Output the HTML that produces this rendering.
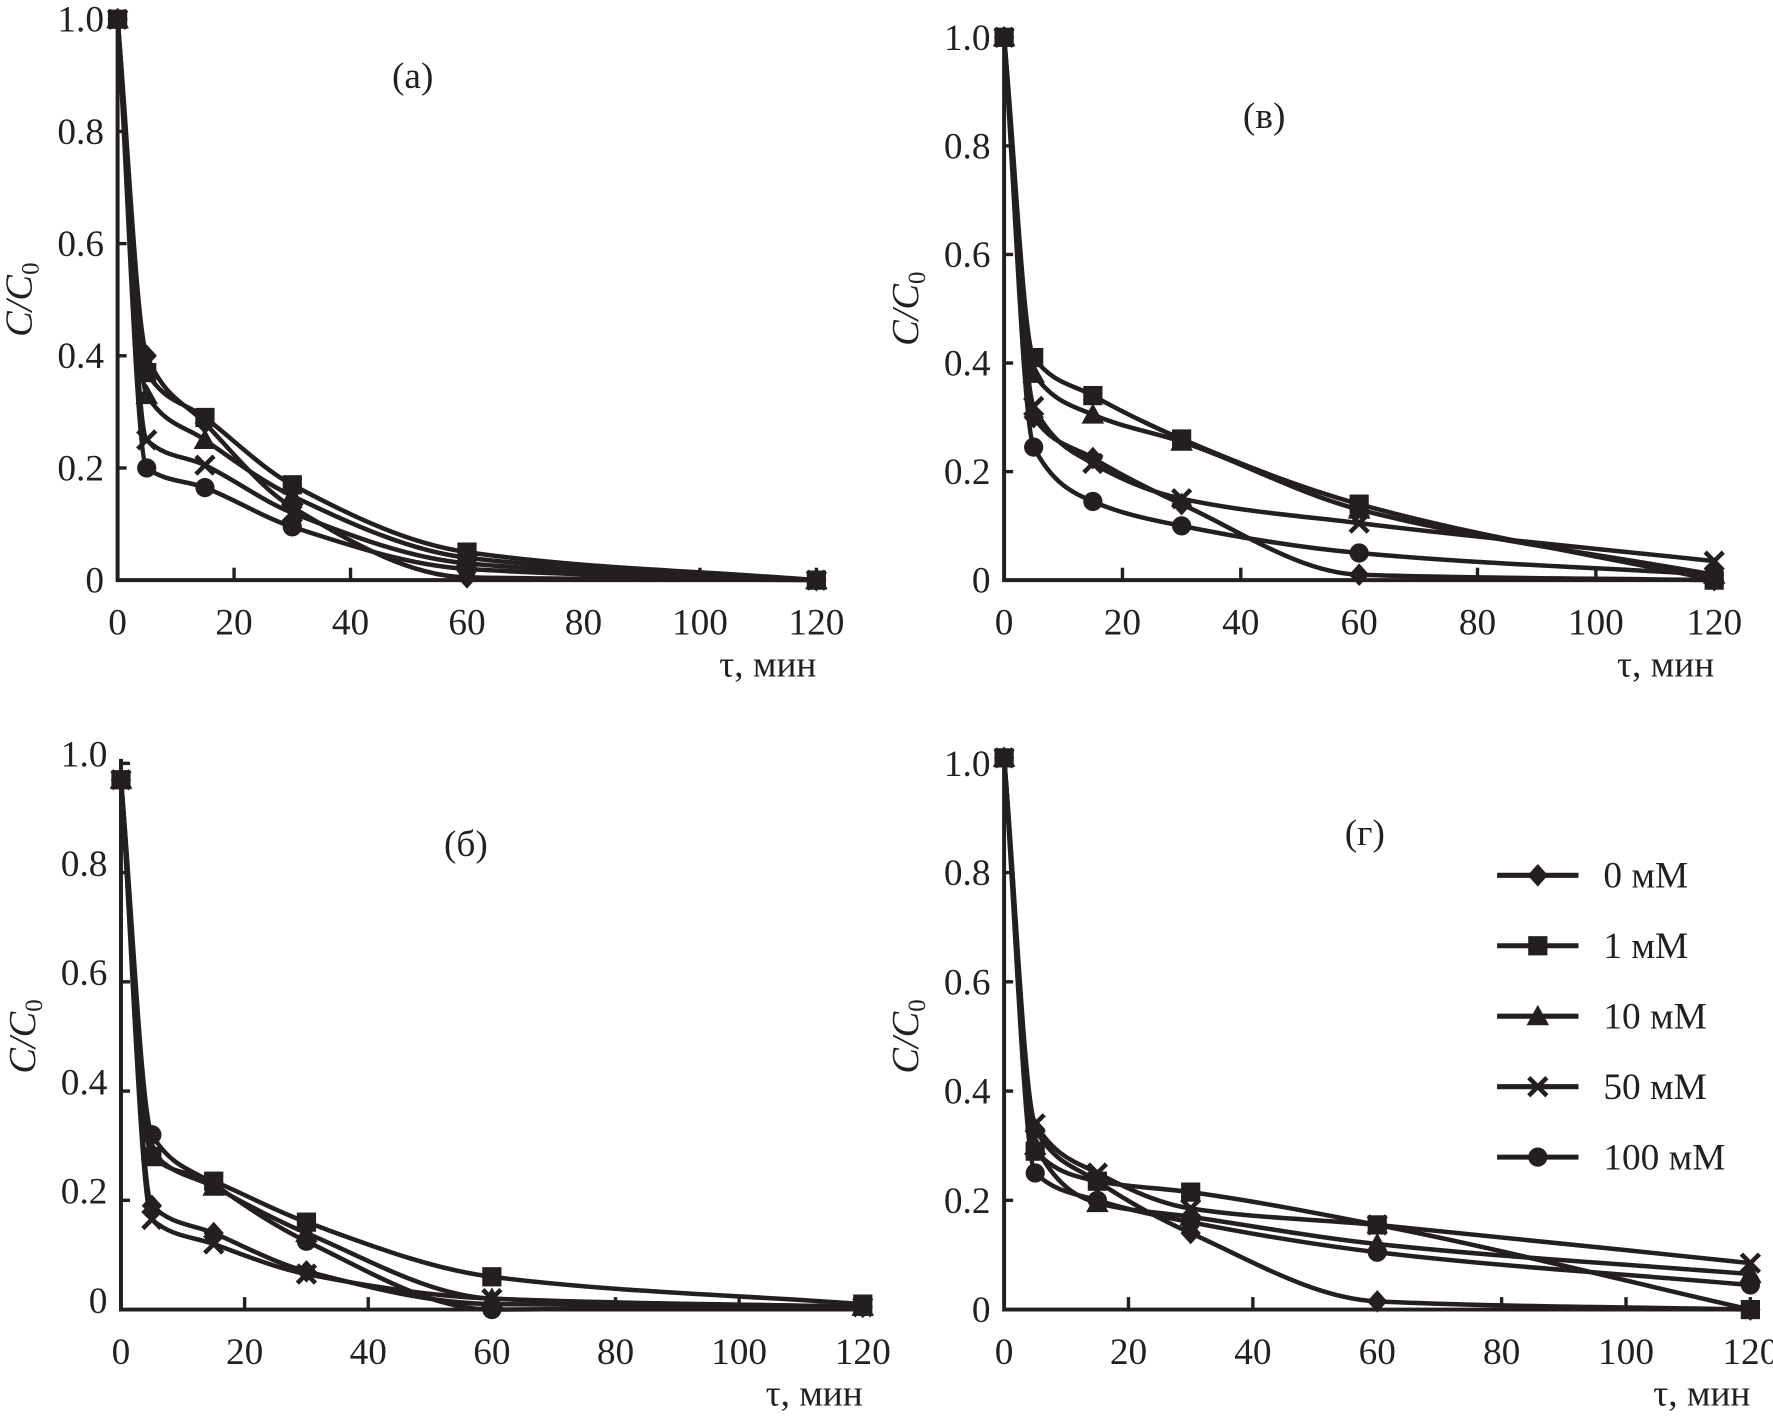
<!DOCTYPE html>
<html><head><meta charset="utf-8"><style>
html,body{margin:0;padding:0;background:#fff}
svg{display:block}
text{font-family:"Liberation Serif",serif;fill:#231f20}
</style></head><body>
<svg id="s" width="1773" height="1417" viewBox="0 0 1568 1253" preserveAspectRatio="none" xmlns="http://www.w3.org/2000/svg"></svg>
<script>
const S=document.getElementById('s');const C='#231f20';
let h='';
const T=[0,5,15,30,60,120];
const panels=[
 {x0:104,x1:722,y0:513,y1:17,lab:'(a)',lx:365,ly:78,tl:0,
  d:[[1,.40,.28,.13,.005,0],[1,.37,.29,.17,.05,0],[1,.33,.25,.15,.04,0],[1,.25,.205,.12,.03,0],[1,.20,.165,.095,.02,0]]},
 {x0:888,x1:1516,y0:513,y1:33,lab:'(в)',lx:1118,ly:113,tl:0,
  d:[[1,.30,.225,.14,.01,0],[1,.41,.34,.26,.14,0],[1,.38,.305,.255,.13,.01],[1,.32,.215,.15,.105,.035],[1,.245,.145,.10,.05,.01]]},
 {x0:107,x1:763,y0:1158,y1:675,lab:'(б)',lx:412,ly:757,tl:-8,
  d:[[.97,.19,.14,.07,.01,.005],[.97,.28,.235,.16,.06,.01],[.97,.29,.225,.14,.02,.005],[.97,.165,.12,.065,.02,.005],[.97,.32,.23,.125,0,.005]]},
 {x0:888,x1:1548,y0:1158,y1:675,lab:'(г)',lx:1207,ly:747,tl:0,
  d:[[1.01,.33,.235,.14,.015,0],[1.01,.29,.235,.215,.155,0],[1.01,.30,.195,.17,.12,.065],[1.01,.34,.25,.185,.155,.085],[1.01,.25,.20,.16,.105,.045]]}
];
function marker(k,x,y){
 if(k==0)return `<path d="M${x} ${y-10}L${x+9} ${y}L${x} ${y+10}L${x-9} ${y}Z" fill="${C}"/>`;
 if(k==1)return `<rect x="${x-8.5}" y="${y-8.5}" width="17" height="17" fill="${C}"/>`;
 if(k==2)return `<path d="M${x} ${y-10}L${x+10} ${y+8}L${x-10} ${y+8}Z" fill="${C}"/>`;
 if(k==3)return `<path d="M${x-8} ${y-8}L${x+8} ${y+8}M${x+8} ${y-8}L${x-8} ${y+8}" stroke="${C}" stroke-width="4"/>`;
 return `<circle cx="${x}" cy="${y}" r="8.5" fill="${C}"/>`;
}
function curve(p){
 const n=p.length,dx=[],sl=[],m=[];
 for(let i=0;i<n-1;i++){dx[i]=p[i+1][0]-p[i][0];sl[i]=(p[i+1][1]-p[i][1])/dx[i];}
 m[0]=sl[0];m[n-1]=sl[n-2];
 for(let i=1;i<n-1;i++){
  if(sl[i-1]*sl[i]<=0)m[i]=0;
  else{const w1=2*dx[i]+dx[i-1],w2=dx[i]+2*dx[i-1];m[i]=(w1+w2)/(w1/sl[i-1]+w2/sl[i]);}
 }
 let d=`M${p[0][0]} ${p[0][1]}`;
 for(let i=0;i<n-1;i++){
  const h3=dx[i]/3;
  d+=`C${p[i][0]+h3} ${p[i][1]+m[i]*h3} ${p[i+1][0]-h3} ${p[i+1][1]-m[i+1]*h3} ${p[i+1][0]} ${p[i+1][1]}`;
 }
 return d;
}
for(const P of panels){
 const sx=v=>P.x0+(P.x1-P.x0)*v/120, sy=v=>P.y0+(P.y1-P.y0)*v;
 h+=`<path d="M${P.x0} ${sy(1)-4}V${P.y0}H${P.x1+6}" fill="none" stroke="${C}" stroke-width="3.5"/>`;
 for(let i=1;i<=5;i++){const y=sy(i*.2);h+=`<line x1="${P.x0}" y1="${y}" x2="${P.x0+8}" y2="${y}" stroke="${C}" stroke-width="3"/>`;}
 for(let i=1;i<=6;i++){const x=sx(i*20);h+=`<line x1="${x}" y1="${P.y0}" x2="${x}" y2="${P.y0-11}" stroke="${C}" stroke-width="3"/>`;}
 const yl=['0','0.2','0.4','0.6','0.8','1.0'];
 for(let i=0;i<=5;i++)h+=`<text x="${P.x0-12}" y="${sy(i*.2)+11+P.tl}" font-size="33" text-anchor="end">${yl[i]}</text>`;
 for(let i=0;i<=6;i++)h+=`<text x="${sx(i*20)}" y="${P.y0+48}" font-size="33" text-anchor="middle">${i*20}</text>`;
 h+=`<text x="${P.x1}" y="${P.y0+85}" font-size="33" text-anchor="end">τ, мин</text>`;
 h+=`<text x="${P.lx}" y="${P.ly}" font-size="33" text-anchor="middle">${P.lab}</text>`;
 const cy=(P.y0+sy(1))/2;
 h+=`<text transform="translate(${P.x0-76},${cy}) rotate(-90)" font-size="34" text-anchor="middle" font-style="italic">C/C<tspan font-size="22" dy="6" font-style="normal">0</tspan></text>`;
 P.d.forEach((s,k)=>{
  const pts=s.map((v,i)=>[sx(T[i]),sy(v)]);
  h+=`<path d="${curve(pts)}" fill="none" stroke="${C}" stroke-width="4"/>`;
 });
 P.d.forEach((s,k)=>{s.forEach((v,i)=>{h+=marker(k,sx(T[i]),sy(v));});});
}
const L=['0 мМ','1 мМ','10 мМ','50 мМ','100 мМ'];
L.forEach((t,i)=>{const y=774+i*62.3;
 h+=`<line x1="1324" y1="${y}" x2="1396" y2="${y}" stroke="${C}" stroke-width="4.5"/>`;
 h+=marker(i,1360,y);
 h+=`<text x="1418" y="${y+11}" font-size="33">${t}</text>`;});
S.innerHTML=h;
</script>
</body></html>
